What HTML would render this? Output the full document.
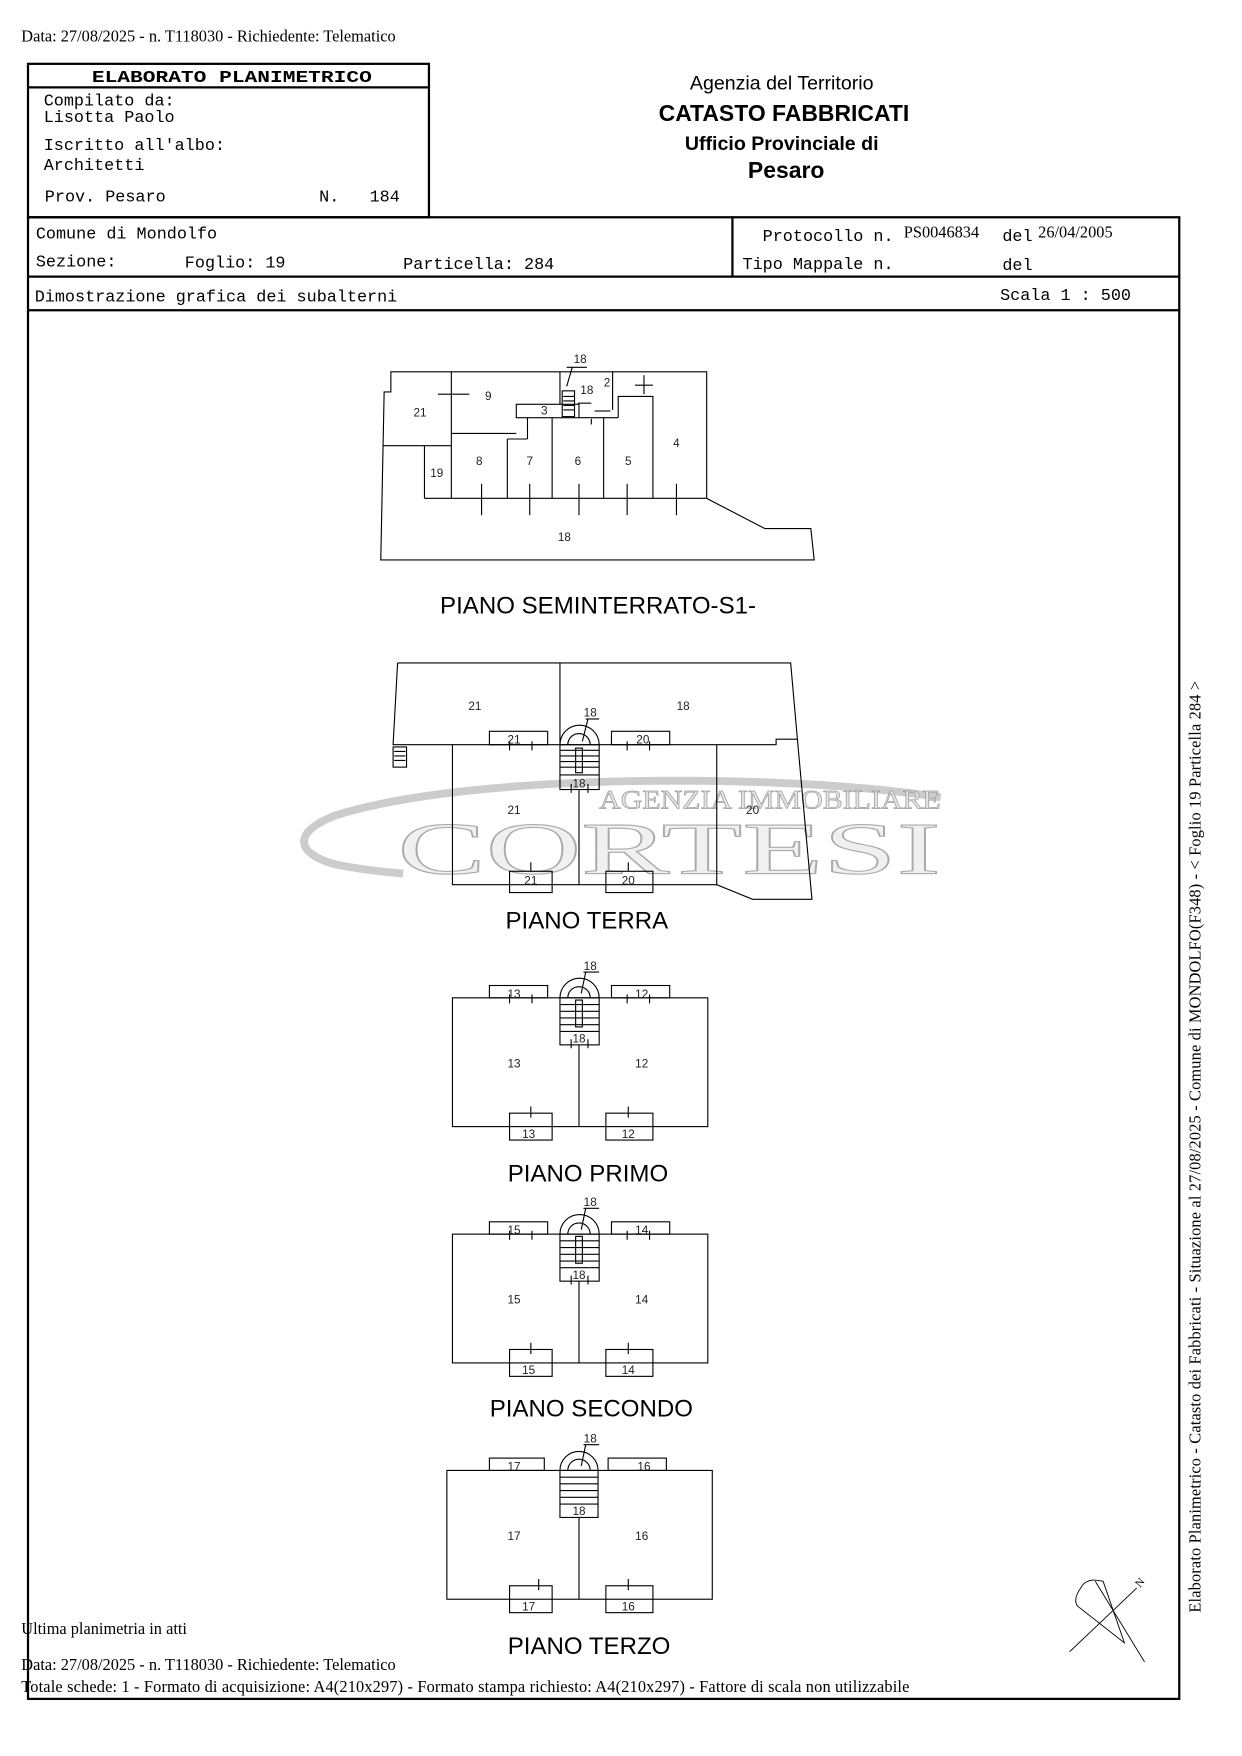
<!DOCTYPE html>
<html><head><meta charset="utf-8"><style>
html,body{margin:0;padding:0;background:#fff}
svg{display:block}
.m{font-family:"Liberation Mono",monospace;font-size:15px;fill:#000}
.s{font-family:"Liberation Serif",serif;font-size:14.6px;fill:#000}
.a{font-family:"Liberation Sans",sans-serif;fill:#000}
.n{font-family:"Liberation Sans",sans-serif;font-size:10.5px;fill:#222;text-anchor:middle}
.t{font-family:"Liberation Sans",sans-serif;font-size:21.5px;fill:#000;text-anchor:middle}
</style></head><body>
<svg width="1242" height="1756" viewBox="0 0 1109 1568" xmlns="http://www.w3.org/2000/svg">
<rect width="1109" height="1568" fill="#fff"/>
<text class="s" x="19" y="37">Data: 27/08/2025 - n. T118030 - Richiedente: Telematico</text>

<g fill="none" stroke="#000" stroke-width="2">
<rect x="25" y="57" width="358" height="137"/>
<line x1="25" y1="78" x2="383" y2="78"/>
<rect x="25" y="194" width="1028" height="1323"/>
<line x1="25" y1="247" x2="1053" y2="247"/>
<line x1="654" y1="194" x2="654" y2="247"/>
<line x1="25" y1="277" x2="1053" y2="277"/>
</g>
<text class="m" x="82" y="73" font-weight="bold" font-size="17" textLength="250" lengthAdjust="spacingAndGlyphs">ELABORATO PLANIMETRICO</text>
<text class="m" x="39" y="94">Compilato da:</text>
<text class="m" x="39" y="109">Lisotta Paolo</text>
<text class="m" x="39" y="134">Iscritto all'albo:</text>
<text class="m" x="39" y="152">Architetti</text>
<text class="m" x="40" y="180">Prov. Pesaro</text>
<text class="m" x="285" y="180">N.</text>
<text class="m" x="330" y="180">184</text>
<g class="a" text-anchor="middle">
<text x="698" y="80" font-size="17.5">Agenzia del Territorio</text>
<text x="700" y="108" font-size="20.5" font-weight="bold">CATASTO FABBRICATI</text>
<text x="698" y="134" font-size="17.5" font-weight="bold">Ufficio Provinciale di</text>
<text x="702" y="159" font-size="20.5" font-weight="bold">Pesaro</text>
</g>
<text class="m" x="32" y="213">Comune di Mondolfo</text>
<text class="m" x="32" y="238">Sezione:</text>
<text class="m" x="165" y="239">Foglio: 19</text>
<text class="m" x="360" y="240">Particella: 284</text>
<text class="m" x="681" y="215">Protocollo n.</text>
<text class="s" x="807" y="212">PS0046834</text>
<text class="m" x="895" y="215">del</text>
<text class="s" x="927" y="212">26/04/2005</text>
<text class="m" x="663" y="240">Tipo Mappale n.</text>
<text class="m" x="895" y="241">del</text>
<text class="m" x="31" y="269">Dimostrazione grafica dei subalterni</text>
<text class="m" x="893" y="268">Scala 1 : 500</text>

<g>
<path d="M840,712 C700,690 420,690 300,728 C262,742 262,762 300,772 C330,778 350,779 360,780" fill="none" stroke="#ccc" stroke-width="7"/>
<text x="535" y="722" font-family="Liberation Serif,serif" font-size="24" fill="#e6e6e6" stroke="#999" stroke-width="0.6" textLength="305" lengthAdjust="spacingAndGlyphs">AGENZIA IMMOBILIARE</text>
<text x="355" y="780" font-family="Liberation Serif,serif" font-size="66" fill="#f0f0f0" stroke="#aaa" stroke-width="1" textLength="485" lengthAdjust="spacingAndGlyphs">CORTESI</text>
</g>

<g fill="none" stroke="#000" stroke-width="1">
<path d="M349,332 H631 V445 L683,472 H724 L727,500 H340 L343,350 H349 Z"/>
<line x1="379" y1="445" x2="631" y2="445"/>
<line x1="342" y1="398" x2="403" y2="398"/>
<line x1="379" y1="398" x2="379" y2="445"/>
<line x1="403" y1="332" x2="403" y2="445"/>
<line x1="403" y1="387" x2="461" y2="387"/>
<rect x="461" y="361" width="56" height="12"/>
<line x1="500" y1="332" x2="500" y2="361"/>
<rect x="502" y="349" width="11" height="23"/>
<path d="M503,354h10M503,358h10M503,362h10M503,366h10"/>
<line x1="453" y1="392" x2="453" y2="445"/>
<line x1="453" y1="392" x2="471" y2="392"/>
<line x1="471" y1="373" x2="471" y2="392"/>
<line x1="493" y1="373" x2="493" y2="445"/>
<line x1="517" y1="373" x2="552" y2="373"/>
<line x1="539" y1="373" x2="539" y2="445"/>
<line x1="547" y1="332" x2="547" y2="366"/>
<path d="M552,373 V354 H583 V445"/>
<line x1="575" y1="335" x2="575" y2="352"/><line x1="567" y1="344" x2="583" y2="344"/>
<line x1="516" y1="360" x2="528" y2="360"/>
<line x1="531" y1="367" x2="545" y2="367"/>
<line x1="528" y1="374" x2="528" y2="379"/><line x1="391" y1="352" x2="419" y2="352"/>
<line x1="430" y1="432" x2="430" y2="460"/><line x1="473" y1="432" x2="473" y2="460"/>
<line x1="517" y1="432" x2="517" y2="460"/><line x1="560" y1="432" x2="560" y2="460"/>
<line x1="604" y1="432" x2="604" y2="460"/>
<line x1="506" y1="328" x2="524" y2="328"/><line x1="511" y1="328" x2="506" y2="345"/>

<path d="M355,592 H706 L712,660 L725,803 H672 L640,790 H404 V665"/>
<path d="M355,592 L351,665 H693 V660 H712"/>
<line x1="500" y1="592" x2="500" y2="665"/>
<line x1="640" y1="665" x2="640" y2="790"/>
<line x1="517" y1="705" x2="517" y2="790"/>
<rect x="351" y="667" width="12" height="18"/>
<path d="M352,671h10M352,675h10M352,679h10"/>
<path d="M500,665 A17,17 0 0 1 535,665"/>
<path d="M507,665 A10,10 0 0 1 527,665"/>
<rect x="500" y="665" width="35" height="40"/>
<path d="M500,670h35M500,675h35M500,680h35M500,685h35"/>
<rect x="514" y="668" width="6" height="22"/>
<line x1="500" y1="692" x2="535" y2="692"/>
<rect x="437" y="653" width="52" height="12"/><rect x="546" y="653" width="52" height="12"/>
<path d="M455,662v8M475,662v8M560,662v8M580,662v8M510,700v8M525,700v8"/>
<rect x="455" y="778" width="38" height="19"/><rect x="541" y="778" width="42" height="19"/>
<path d="M474,770v8M561,770v8"/>
<line x1="523" y1="642" x2="535" y2="642"/><line x1="525" y1="642" x2="520" y2="662"/>

<g id="fl">
<rect x="404" y="891" width="228" height="115"/>
<rect x="437" y="880" width="52" height="11"/><rect x="546" y="880" width="52" height="11"/>
<path d="M500,891 A17,17 0 0 1 535,891"/>
<path d="M507,891 A10,10 0 0 1 527,891"/>
<rect x="500" y="891" width="35" height="42"/>
<path d="M500,897h35M500,903h35M500,909h35M500,915h35"/>
<rect x="514" y="893" width="6" height="24"/>
<line x1="500" y1="921" x2="535" y2="921"/>
<line x1="517" y1="933" x2="517" y2="1006"/>
<rect x="455" y="994" width="38" height="24"/><rect x="541" y="994" width="42" height="24"/>
<path d="M455,888v8M475,888v8M560,888v8M580,888v8M510,928v8M525,928v8M474,988v10M561,988v10"/>
<line x1="521" y1="868" x2="535" y2="868"/><line x1="523" y1="868" x2="519" y2="887"/>
</g>
<use href="#fl" y="211"/>
<g transform="translate(-3,422)">
<rect x="402" y="891" width="237" height="115"/>
<rect x="440" y="880" width="49" height="11"/><rect x="546" y="880" width="52" height="11"/>
<path d="M503,891 A17,17 0 0 1 537,891"/>
<path d="M510,891 A10,10 0 0 1 530,891"/>
<rect x="503" y="891" width="34" height="42"/>
<path d="M503,897h34M503,903h34M503,909h34M503,915h34"/>
<line x1="503" y1="921" x2="537" y2="921"/>
<line x1="520" y1="933" x2="520" y2="1006"/>
<rect x="458" y="994" width="38" height="24"/><rect x="544" y="994" width="42" height="24"/>
<path d="M484,988v10M564,988v10"/>
<line x1="524" y1="868" x2="538" y2="868"/><line x1="526" y1="868" x2="522" y2="887"/>
</g>

<g stroke-width="0.8">
<line x1="955" y1="1475" x2="1015" y2="1418"/>
<line x1="978" y1="1412" x2="1022" y2="1484"/>
<path d="M965,1418 Q970,1408 985,1412 L1004,1467 L962,1434 Q958,1428 965,1418 Z"/>
</g>
</g>
<text x="1018" y="1418" font-family="Liberation Serif,serif" font-size="10" transform="rotate(-50 1018 1418)">N</text>

<g class="n">
<text x="375" y="372">21</text><text x="436" y="357">9</text><text x="518" y="324">18</text>
<text x="524" y="352">18</text><text x="542" y="345">2</text><text x="486" y="370">3</text>
<text x="390" y="426">19</text><text x="428" y="415">8</text><text x="473" y="415">7</text>
<text x="516" y="415">6</text><text x="561" y="415">5</text><text x="604" y="399">4</text>
<text x="504" y="483">18</text>
<text x="424" y="634">21</text><text x="610" y="634">18</text><text x="527" y="640">18</text>
<text x="459" y="664">21</text><text x="574" y="664">20</text><text x="517" y="703">18</text>
<text x="459" y="727">21</text><text x="672" y="727">20</text>
<text x="474" y="790">21</text><text x="561" y="790">20</text>
<text x="459" y="891">13</text><text x="573" y="891">12</text><text x="527" y="866">18</text><text x="517" y="931">18</text>
<text x="459" y="953">13</text><text x="573" y="953">12</text><text x="472" y="1016">13</text><text x="561" y="1016">12</text>
<text x="459" y="1102">15</text><text x="573" y="1102">14</text><text x="527" y="1077">18</text><text x="517" y="1142">18</text>
<text x="459" y="1164">15</text><text x="573" y="1164">14</text><text x="472" y="1227">15</text><text x="561" y="1227">14</text>
<text x="459" y="1313">17</text><text x="575" y="1313">16</text><text x="527" y="1288">18</text><text x="517" y="1353">18</text>
<text x="459" y="1375">17</text><text x="573" y="1375">16</text><text x="472" y="1438">17</text><text x="561" y="1438">16</text>
</g>

<text class="t" x="534" y="548">PIANO SEMINTERRATO-S1-</text>
<text class="t" x="524" y="829">PIANO TERRA</text>
<text class="t" x="525" y="1055">PIANO PRIMO</text>
<text class="t" x="528" y="1265">PIANO SECONDO</text>
<text class="t" x="526" y="1477">PIANO TERZO</text>

<text class="s" x="1072" y="1440" transform="rotate(-90 1072 1440)" font-size="14.4" textLength="832">Elaborato Planimetrico - Catasto dei Fabbricati - Situazione al 27/08/2025 - Comune di MONDOLFO(F348) - &lt; Foglio 19 Particella 284 &gt;</text>

<text class="s" x="19" y="1459">Ultima planimetria in atti</text>
<text class="s" x="19" y="1491">Data: 27/08/2025 - n. T118030 - Richiedente: Telematico</text>
<text class="s" x="19" y="1511" textLength="793">Totale schede: 1 - Formato di acquisizione: A4(210x297)  - Formato stampa richiesto: A4(210x297) - Fattore di scala non utilizzabile</text>
</svg>
</body></html>
